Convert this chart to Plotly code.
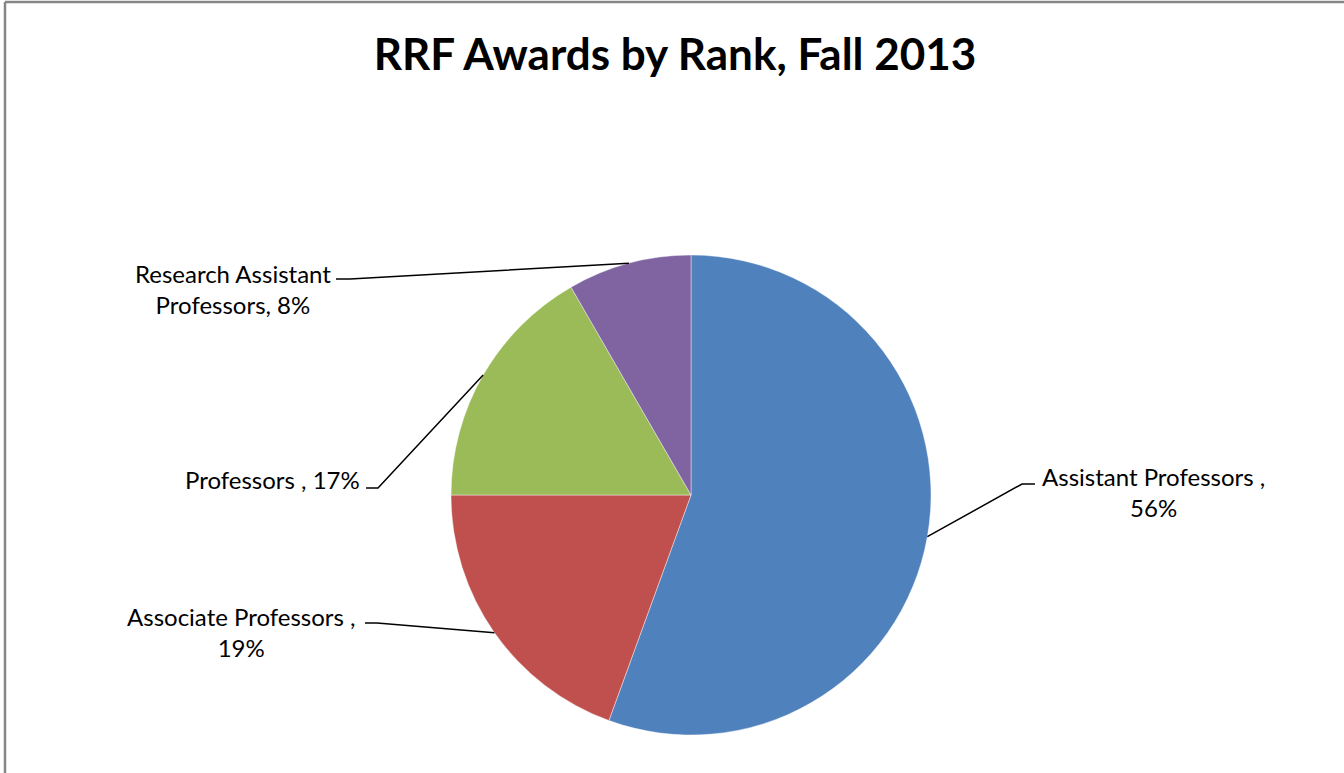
import math
import plotly.graph_objects as go

# Data
categories = ["Assistant Professors ", "Associate Professors ", "Professors ", "Research Assistant Professors"]
counts = [20, 7, 6, 3]
pct_labels = ["56%", "19%", "17%", "8%"]
colors = ["#4F81BD", "#C0504D", "#9BBB59", "#8064A2"]

W, H = 1344, 773
FONT = "Lato"

# pie geometry (pixels)
CX, CY, R = 691, 495, 240

def px(x):
    return x / W

def py(y):
    return 1 - y / H

fig = go.Figure()
fig.add_trace(go.Pie(
    labels=categories,
    values=counts,
    sort=False,
    direction="clockwise",
    rotation=0,
    marker=dict(colors=colors, line=dict(color="rgba(255,255,255,0.6)", width=0.7)),
    textinfo="none",
    hoverinfo="label+percent",
    domain=dict(x=[px(CX - R), px(CX + R)], y=[py(CY + R), py(CY - R)]),
    showlegend=False,
))

# mid angles of slices (clockwise from top)
total = sum(counts)
mids = []
acc = 0
for c in counts:
    mids.append((acc + c / 2) / total * 360)
    acc += c

def edge(i):
    t = math.radians(mids[i])
    return CX + R * math.sin(t), CY - R * math.cos(t)

# label layout (pixel positions of text and leader-line elbows)
label_texts = [
    "Assistant Professors ,<br>56%",
    "Associate Professors ,<br>19%",
    "Professors , 17%",
    "Research Assistant<br>Professors, 8%",
]
label_pos = [(1153, 492), (241, 632), (272, 480), (233, 289)]
elbows = [((1035, 484), (1022, 484)),
          ((365, 623), (377, 623)),
          ((366, 488), (378, 488)),
          ((336, 279), (350, 279))]

annotations = []
shapes = []
for i in range(4):
    x, y = label_pos[i]
    annotations.append(dict(
        x=px(x), y=py(y), xref="paper", yref="paper",
        text=label_texts[i], showarrow=False, xanchor="center", yanchor="middle",
        align="center", font=dict(family=FONT, size=24, color="#000000"),
    ))
    (ax, ay), (bx, by) = elbows[i]
    ex, ey = edge(i)
    path = f"M {px(ax)} {py(ay)} L {px(bx)} {py(by)} L {px(ex)} {py(ey)}"
    shapes.append(dict(type="path", xref="paper", yref="paper", path=path,
                       line=dict(color="#000000", width=1.5)))

# chart border (left and top visible)
shapes.append(dict(type="line", xref="paper", yref="paper", x0=px(5), x1=px(5), y0=py(2), y1=py(800),
                   line=dict(color="#868686", width=2.5)))
shapes.append(dict(type="line", xref="paper", yref="paper", x0=px(5), x1=px(1400), y0=py(2), y1=py(2),
                   line=dict(color="#868686", width=2.5)))

fig.update_layout(
    width=W, height=H,
    margin=dict(l=0, r=0, t=0, b=0),
    paper_bgcolor="white", plot_bgcolor="white",
    title=dict(text="<b>RRF Awards by Rank, Fall 2013</b>", x=px(675), xanchor="center",
               y=py(55), yanchor="middle", font=dict(family=FONT, size=44, color="#000000")),
    annotations=annotations,
    shapes=shapes,
)

fig.write_html("out.html", config={"displayModeBar": False},
               post_script="document.body.style.margin='0';document.body.style.overflow='hidden';")
